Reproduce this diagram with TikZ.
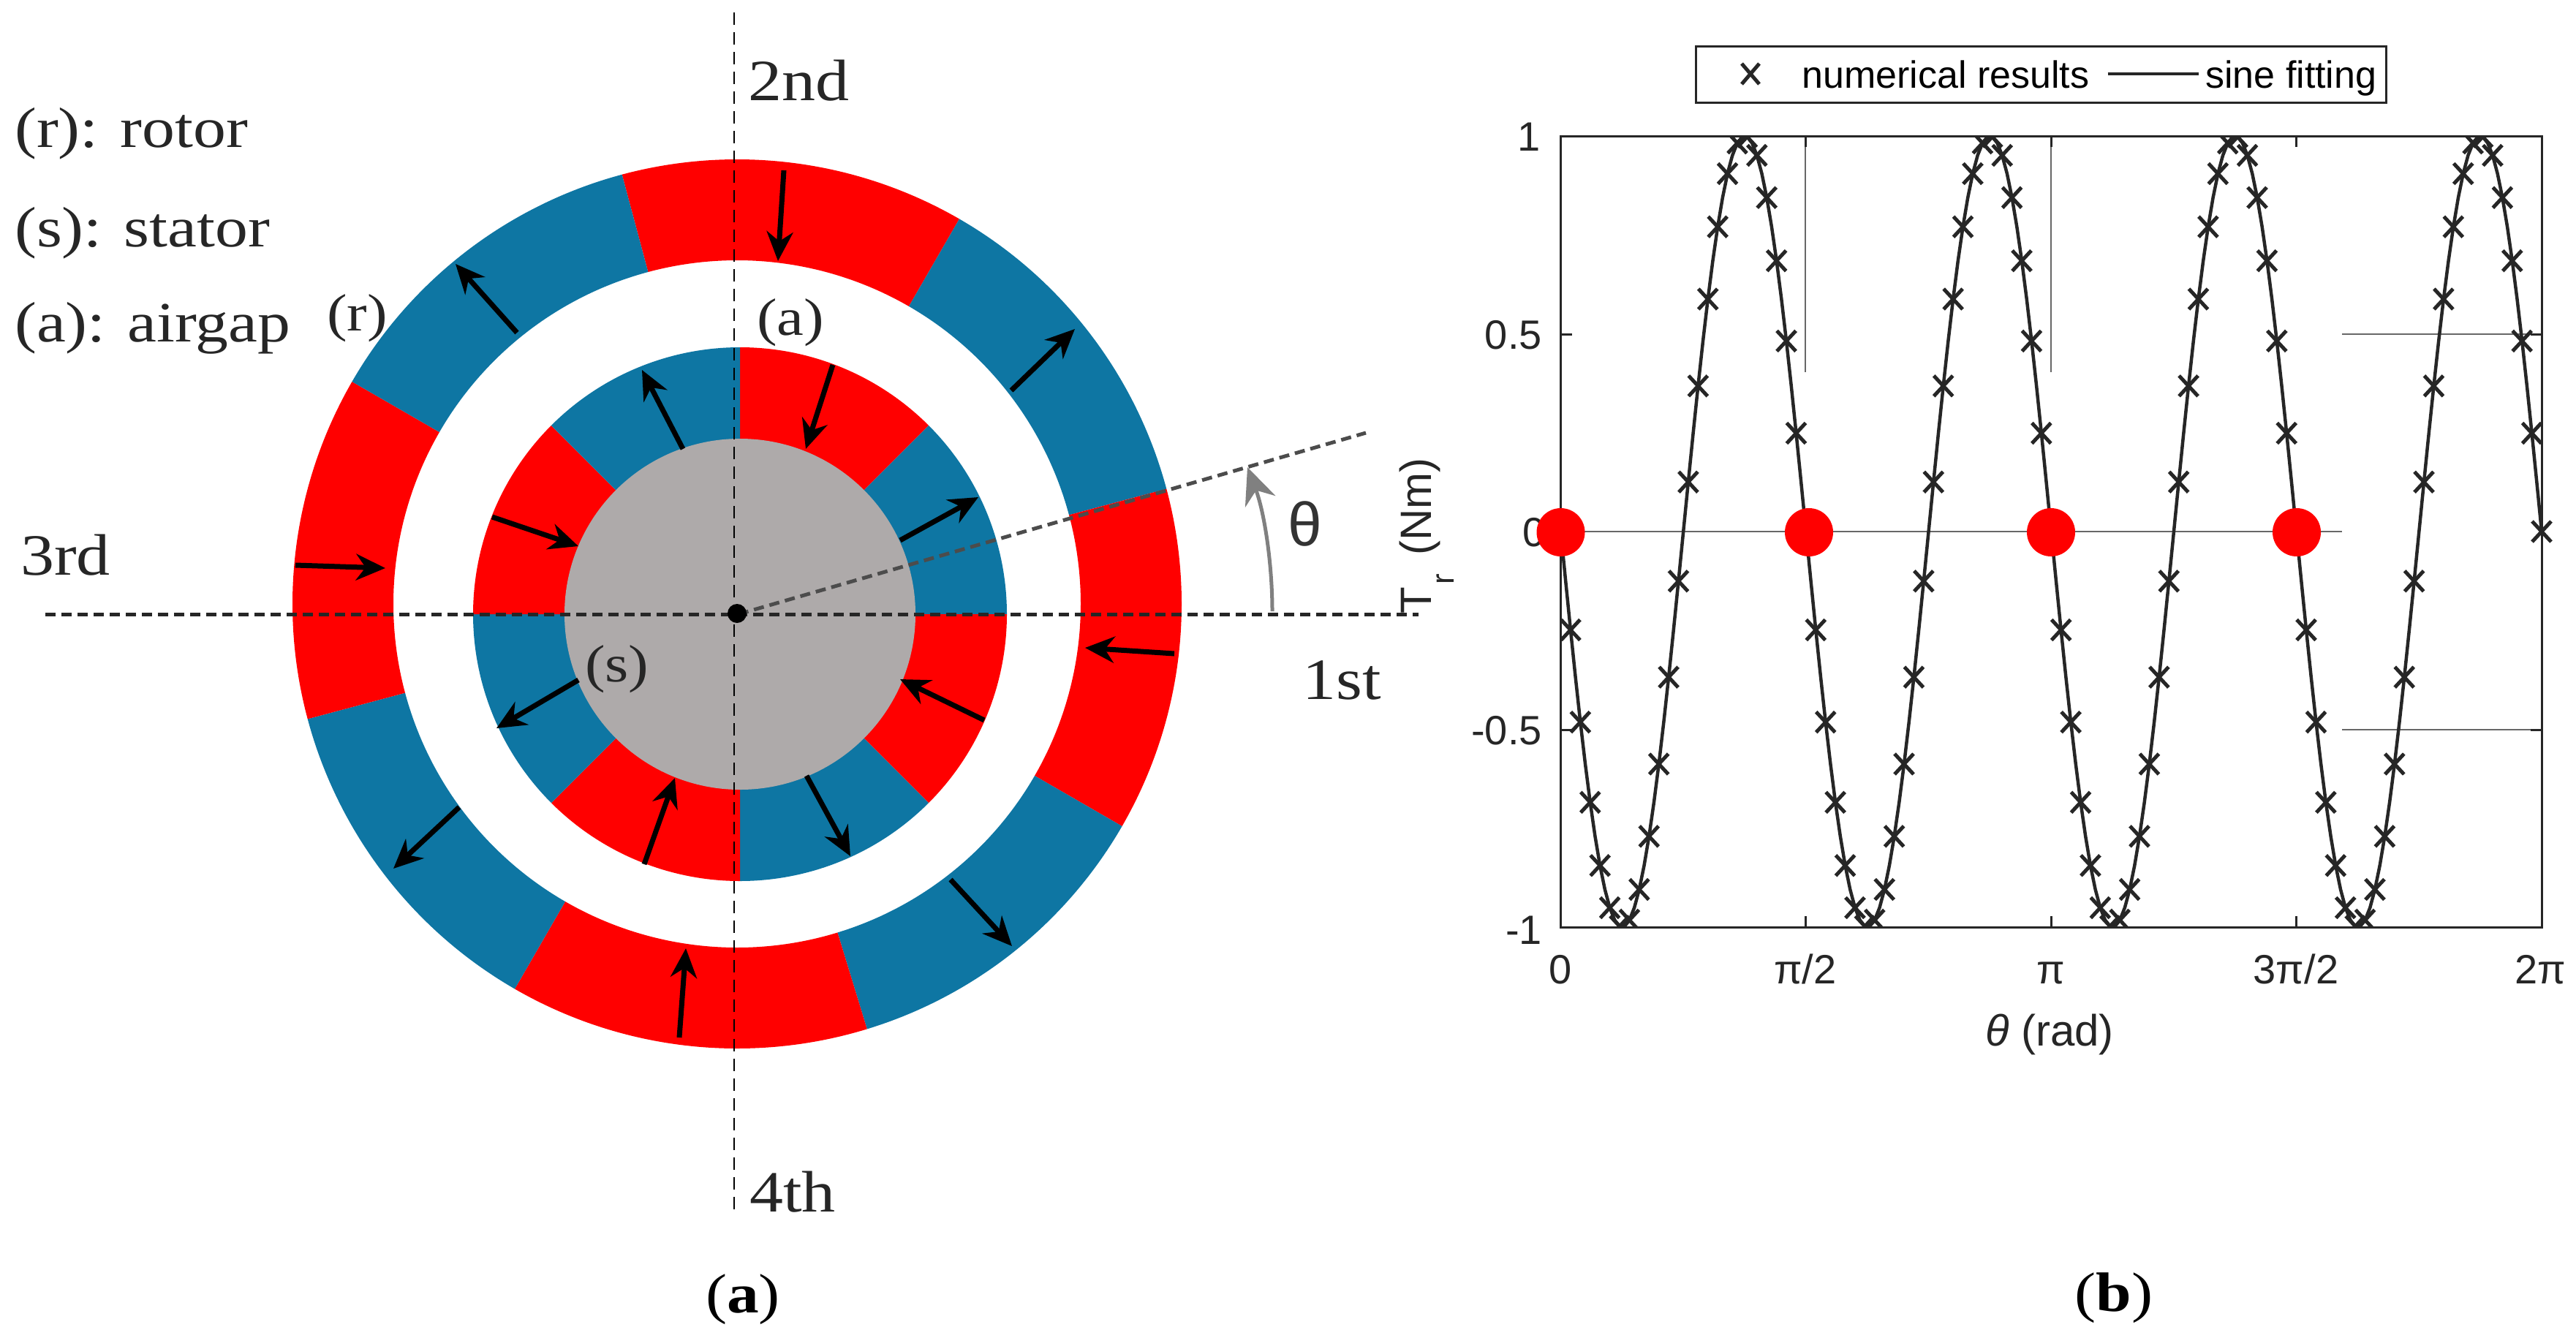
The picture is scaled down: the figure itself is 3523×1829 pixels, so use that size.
\documentclass[tikz,border=0pt]{standalone}
\usepackage{fontspec}
\usetikzlibrary{arrows.meta}
\newfontfamily\arialf{Liberation Sans}
\newfontfamily\cambf[FakeStretch=1.15]{Liberation Serif}
\newcommand{\fsz}[1]{\fontsize{#1}{#1}\selectfont}
\definecolor{magblue}{HTML}{0E76A3}
\definecolor{magred}{HTML}{FF0000}
\definecolor{coregrey}{HTML}{AEAAAA}
\definecolor{plotink}{HTML}{262626}
% #1 centre x, #2 centre y, #3 inner r, #4 outer r, #5 start, #6 end, #7 colour
\newcommand{\sector}[7]{%
  \fill[#7,shift={(#1,#2)},y=1pt] (#5:#4) arc[start angle=#5,end angle=#6,radius=#4]
    -- (#6:#3) arc[start angle=#6,end angle=#5,radius=#3] -- cycle;}
\begin{document}
\begin{tikzpicture}[x=1pt,y=-1pt,
  magarrow/.style={line width=7pt,black,-{Stealth[length=40pt,width=36pt]}},
  lab/.style={anchor=base west,inner sep=0pt,font=\cambf\fsz{78},text=black!85},
  smalllab/.style={anchor=base west,inner sep=0pt,font=\cambf\fsz{72},text=black!85},
  captext/.style={anchor=base,inner sep=0pt,font=\cambf\fsz{76}},
  ticklab/.style={inner sep=0pt,font=\arialf\fsz{56},text=plotink},
  plotline/.style={line width=4.5pt,plotink},
  thinline/.style={line width=1.2pt,plotink!70},
  axisline/.style={line width=3pt,plotink}]
\useasboundingbox (0,0) rectangle (3523,1829);
\fill[white] (0,0) rectangle (3523,1829);
% rotor
\foreach \a/\b/\c in {60/105/magred,15/60/magblue,-30/15/magred,-73/-30/magblue,-120/-73/magred,-165/-120/magblue,150/195/magred,105/150/magblue}
  {\sector{1008}{826}{470}{608}{\a}{\b}{\c}}
% stator
\foreach \a/\b/\c in {45/90/magred,0/45/magblue,-45/0/magred,-90/-45/magblue,-135/-90/magred,-180/-135/magblue,135/180/magred,90/135/magblue}
  {\sector{1012}{840}{230}{365}{\a}{\b}{\c}}
\fill[coregrey] (1012,840) circle[radius=240];
% axes
\draw[line width=2.5pt,dash pattern=on 17pt off 10pt,black] (1004,17) -- (1004,1663);
\draw[line width=5pt,dash pattern=on 14pt off 8pt,black!85] (62,840) -- (1940,840);
\draw[line width=5pt,dash pattern=on 14pt off 8pt,black!70] (1010,840) -- (1868,592);
\fill[black] (1008,839) circle[radius=13];
% rotor arrows
\draw[magarrow] (1072,233) -- (1064,357);
\draw[magarrow] (707,455) -- (623,361);
\draw[magarrow] (1383,534) -- (1470,450);
\draw[magarrow] (404,773) -- (527,777);
\draw[magarrow] (1606,894) -- (1484,886);
\draw[magarrow] (1300,1203) -- (1384,1294);
\draw[magarrow] (929,1419) -- (938,1297);
\draw[magarrow] (628,1104) -- (538,1188);
% stator arrows
\draw[magarrow] (1139,499) -- (1102,614);
\draw[magarrow] (934,614) -- (878,506);
\draw[magarrow] (673,707) -- (791,747);
\draw[magarrow] (1231,739) -- (1338,680);
\draw[magarrow] (1346,985) -- (1231,929);
\draw[magarrow] (1103,1061) -- (1163,1171);
\draw[magarrow] (881,1182) -- (923,1064);
\draw[magarrow] (791,930) -- (679,996);
% theta arc
\draw[line width=5pt,black!50,-{Stealth[length=50pt,width=44pt]}] (1740,836) .. controls (1740,770) and (1729,700) .. (1706,639);
\node[anchor=base,inner sep=0pt,font=\arialf\fsz{84},text=black!80] (thetalab) at (1785,746) {θ};
% labels
\node[lab] (lr) at (20,201) {(r): rotor};
\node[lab] (ls) at (20,337) {(s): stator};
\node[lab] (la) at (20,467) {(a): airgap};
\node[lab,font=\cambf\fsz{80}] (second) at (1023,137) {2nd};
\node[lab,font=\cambf\fsz{80}] (third) at (28,786) {3rd};
\node[lab,font=\cambf\fsz{80}] (first) at (1781,956) {1st};
\node[lab,font=\cambf\fsz{80}] (fourth) at (1025,1657) {4th};
\node[smalllab] (rr) at (447,452) {(r)};
\node[smalllab] (aa) at (1035,458) {(a)};
\node[smalllab] (ss) at (800,932) {(s)};
\node[captext] (capa) at (1016,1795) {(\textbf{a})};
\node[captext] (capb) at (2891,1793) {(\textbf{b})};
% plot thin lines
\draw[thinline] (2469,186) -- (2469,509);
\draw[thinline] (2805,186) -- (2805,509);
\draw[thinline] (3203,457) -- (3476,457);
\draw[thinline] (3203,998) -- (3476,998);
\draw[thinline] (2134.5,727) -- (3203,727);
% plot curve and markers
\begin{scope}
  \clip (2100,186) rectangle (3500,1268);
  \draw[plotline,line join=round] plot[samples=201,domain=0:1341.5] ({2134.5+\x},{727+541*sin(\x*1.07343)});
  \foreach \i in {0,...,100}{
    \pgfmathsetmacro{\xx}{2134.5+13.415*\i}
    \pgfmathsetmacro{\yy}{727+541*sin(14.4*\i)}
    \draw[plotline,line width=5pt,shift={(\xx,\yy)}] (-13,-14) -- (13,14) (-13,14) -- (13,-14);
  }
\end{scope}
% axes box and ticks
\draw[axisline] (2134.5,186) rectangle (3476,1268);
\foreach \tx in {2469,2805,3140}{
  \draw[axisline] (\tx,186) -- (\tx,201);
  \draw[axisline] (\tx,1268) -- (\tx,1253);
}
\foreach \ty in {457,998}{
  \draw[axisline] (2134.5,\ty) -- (2150,\ty);
  \draw[axisline] (3476,\ty) -- (3461,\ty);
}
% tick labels
\node[ticklab,anchor=east] (y1) at (2107,187) {1};
\node[ticklab,anchor=east] (y05) at (2109,458) {0.5};
\node[ticklab,anchor=east] (y0) at (2114,728) {0};
\node[ticklab,anchor=east] (ym05) at (2109,999) {-0.5};
\node[ticklab,anchor=east] (ym1) at (2109,1272) {-1};
\node[ticklab,anchor=base] (x0) at (2134.5,1345) {0};
\node[ticklab,anchor=base] (x1) at (2469,1345) {π/2};
\node[ticklab,anchor=base] (x2) at (2805,1345) {π};
\node[ticklab,anchor=base] (x3) at (3140,1345) {3π/2};
\node[ticklab,anchor=base] (x4) at (3474,1345) {2π};
\node[ticklab,anchor=base,font=\arialf\fsz{60}] (xlab) at (2803,1430) {\itshape θ\upshape{} (rad)};
\node[ticklab,anchor=base west,rotate=90,font=\arialf\fsz{60}] (ylab) at (1957,840) {T\kern4pt\raisebox{-31pt}{\fsz{44}r}\kern25pt(Nm)};
% red points
\foreach \px in {2134.5,2474,2805,3141}
  \fill[magred] (\px,728) circle[radius=33];
% legend
\draw[line width=3pt,plotink] (2319.5,63) rectangle (3263,140);
\draw[plotline,line width=5pt] (2382,87) -- (2406,115) (2382,115) -- (2406,87);
\draw[plotline] (2882.5,101) -- (3006.5,101);
\node[anchor=base west,inner sep=0pt,font=\arialf\fsz{52},text=black] (leg1) at (2464,120) {numerical results};
\node[anchor=base west,inner sep=0pt,font=\arialf\fsz{52},text=black] (leg2) at (3016,120) {sine fitting};
\end{tikzpicture}
\end{document}
